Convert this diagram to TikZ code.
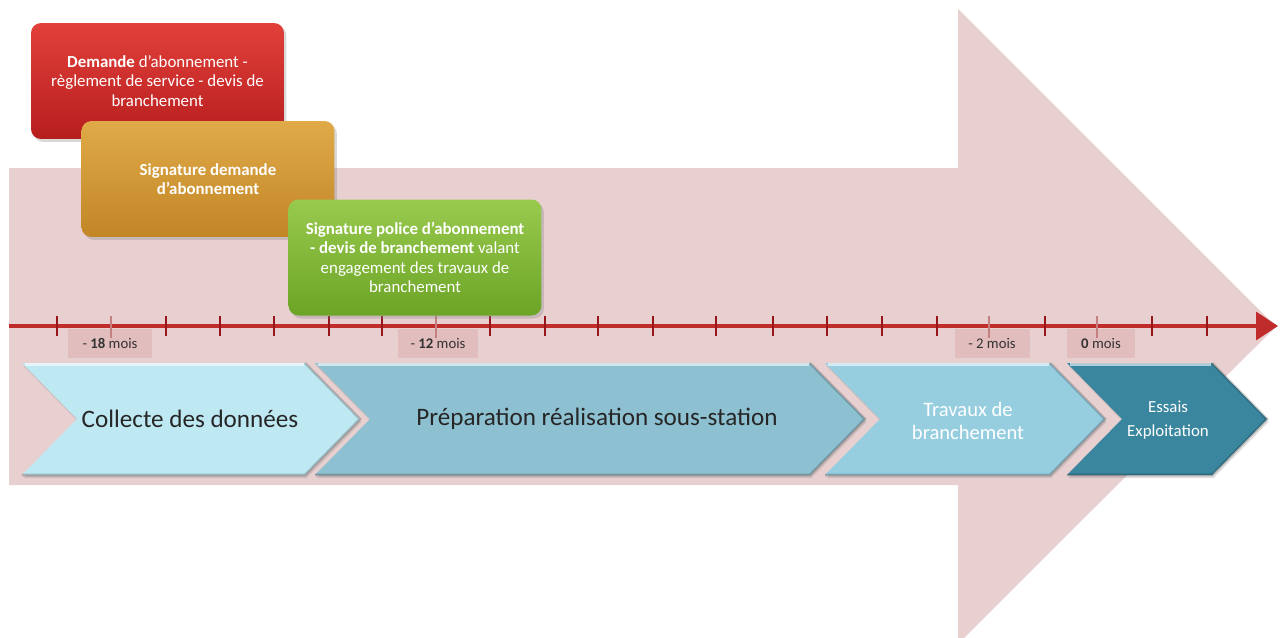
\documentclass[tikz,border=0pt]{standalone}
\usepackage{fontspec}
\setmainfont{Carlito}
\usetikzlibrary{positioning, arrows.meta, shadows}

\begin{document}
\begin{tikzpicture}[x=0.02cm, y=-0.02cm, font=\fontsize{9.6}{11}\selectfont, align=center, >={Triangle[length=0.44cm, width=0.56cm]}, line width=0.5mm,
    topbox/.style={rounded corners=0.2cm, minimum width=5.06cm, minimum height=2.32cm, text=white, drop shadow={opacity=0.3, shadow xshift=0.05cm, shadow yshift=-0.06cm}},
    moisbox/.style={fill=moisfill, minimum height=0.58cm, inner sep=0pt, font=\fontsize{8.4}{10}\selectfont, text=black!80},
    chevtext/.style={font=\fontsize{14.3}{17}\selectfont, text=black!85},
    timeline/.style={line width=2pt, draw=lineRed},
    tickmark/.style={line width=1.5pt, draw=tickRed},
    lighttick/.style={line width=0.9pt, draw=tickLight}]
        % Define colors
        \definecolor{arrowpink}{RGB}{232,208,209}
        \definecolor{moisfill}{RGB}{225,189,190}
        \definecolor{lineRed}{RGB}{192,44,44}
        \definecolor{tickRed}{RGB}{150,22,26}
        \definecolor{tickLight}{RGB}{196,128,128}
        \definecolor{chevA}{RGB}{190,232,242}
        \definecolor{chevB}{RGB}{141,192,208}
        \definecolor{chevC}{RGB}{150,206,224}
        \definecolor{chevD}{RGB}{58,134,158}
        \definecolor{redtop}{RGB}{226,64,58}
        \definecolor{redbot}{RGB}{182,30,30}
        \definecolor{orangetop}{RGB}{224,170,72}
        \definecolor{orangebot}{RGB}{194,134,38}
        \definecolor{greentop}{RGB}{152,202,78}
        \definecolor{greenbot}{RGB}{108,164,38}

        \useasboundingbox (0,0) rectangle (1280,637);

        % Background arrow
        \fill[arrowpink] (9,168) -- (958,168) -- (958,9) -- (1276,326.5) -- (958,644) -- (958,485) -- (9,485) -- cycle;

        % Month labels
        \node[moisbox, minimum width=1.68cm] (m18) at (110,343.5) {- \textbf{18} mois};
        \node[moisbox, minimum width=1.6cm] (m12) at (438,343.5) {- \textbf{12} mois};
        \node[moisbox, minimum width=1.5cm] (m2) at (992,343.5) {- 2 mois};
        \node[moisbox, minimum width=1.36cm] (m0) at (1101,343.5) {\textbf{0} mois};

        % Timeline
        \coordinate (tstart) at (9,326);
        \coordinate (tend) at (1278,326);
        \draw[->, timeline] (tstart) -- (tend);
        \foreach \x in {57,166,220,274,329,382,490,545,598,653,716,773,827,882,937,1045,1152,1207} {
            \draw[tickmark] (\x,316) -- (\x,336);
        }
        \foreach \x in {111,436,989,1097} {
            \draw[lighttick] (\x,316) -- (\x,338);
        }

        % Chevrons
        \foreach \xa/\xb/\col in {22/360/chevA, 315/865/chevB, 825/1105/chevC, 1067/1267/chevD} {
            \fill[\col, drop shadow={opacity=0.25, shadow xshift=0.03cm, shadow yshift=-0.06cm}] (\xa,363) -- (\xb-55,363) -- (\xb,419) -- (\xb-55,475) -- (\xa,475) -- (\xa+55,419) -- cycle;
            \draw[white, opacity=0.6, line width=1.2pt] (\xa+3,364.5) -- (\xb-56,364.5);
            \draw[black, opacity=0.2, line width=1.5pt] (\xb-55,363) -- (\xb,419) -- (\xb-55,475) -- (\xa,475);
        }
        \node[chevtext] (collecte) at (190,419) {Collecte des données};
        \node[chevtext] (preparation) at (597,419) {Préparation réalisation sous-station};
        \node[chevtext, font=\fontsize{11.7}{13}\selectfont, text=white] (travaux) at (968,421) {Travaux de\\branchement};
        \node[chevtext, font=\fontsize{9.6}{13.4}\selectfont, text=white] (essais) at (1168,420) {Essais\\Exploitation};

        % Steps
        \node[topbox, top color=redtop, bottom color=redbot] (demande) at (157.5,81) {\textbf{Demande} d'abonnement -\\règlement de service - devis de\\branchement};
        \node[topbox, top color=orangetop, bottom color=orangebot] (signdemande) at (208,179) {\textbf{Signature demande}\\\textbf{d'abonnement}};
        \node[topbox, top color=greentop, bottom color=greenbot] (signpolice) at (415,257.5) {\textbf{Signature police d'abonnement}\\\textbf{- devis de branchement} valant\\engagement des travaux de\\branchement};
    \end{tikzpicture}
\end{document}
